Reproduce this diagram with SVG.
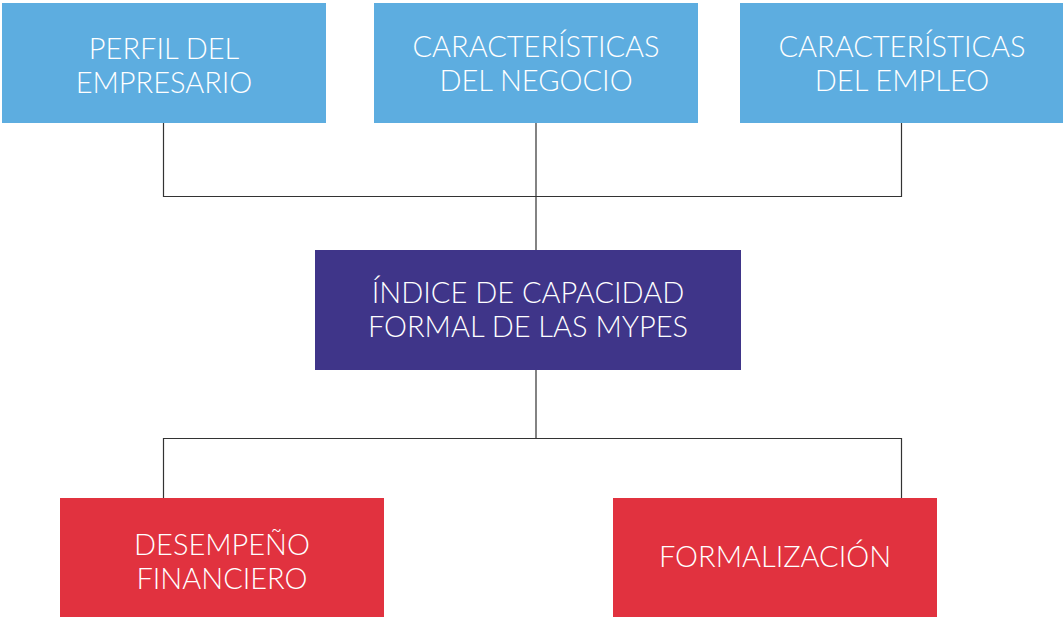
<svg xmlns="http://www.w3.org/2000/svg" width="1063" height="617" viewBox="0 0 1063 617">
<style>
.blue{fill:#5dade0}
.purple{fill:#3f3589}
.red{fill:#e1323f}
.t{fill:#ffffff;font-family:Lato,"Open Sans","Liberation Sans",sans-serif;font-weight:300;font-size:29px;text-anchor:middle}
.c{stroke:#333333;stroke-width:1.2;fill:none}
</style>
<rect width="1063" height="617" fill="#ffffff"/>
<g id="connectors">
<path class="c" d="M163.5 123V196.5H901.5V123M536 123V250"/>
<path class="c" d="M536 370V438.5M163.5 498V438.5H901.5V498"/>
</g>
<g id="perfil">
<rect class="blue" x="2" y="3" width="324" height="120"/>
<text class="t" x="164" y="59">PERFIL DEL</text>
<text class="t" x="164" y="93">EMPRESARIO</text>
</g>
<g id="negocio">
<rect class="blue" x="374" y="3" width="324" height="120"/>
<text class="t" x="536" y="57">CARACTERÍSTICAS</text>
<text class="t" x="536" y="91">DEL NEGOCIO</text>
</g>
<g id="empleo">
<rect class="blue" x="740" y="3" width="323" height="120"/>
<text class="t" x="902" y="57">CARACTERÍSTICAS</text>
<text class="t" x="902" y="91">DEL EMPLEO</text>
</g>
<g id="indice">
<rect class="purple" x="315" y="250" width="426" height="120"/>
<text class="t" x="528" y="303">ÍNDICE DE CAPACIDAD</text>
<text class="t" x="528" y="337">FORMAL DE LAS MYPES</text>
</g>
<g id="desempeno">
<rect class="red" x="60" y="498" width="324" height="119"/>
<text class="t" x="222" y="555">DESEMPEÑO</text>
<text class="t" x="222" y="589">FINANCIERO</text>
</g>
<g id="formalizacion">
<rect class="red" x="613" y="498" width="324" height="119"/>
<text class="t" x="775" y="567">FORMALIZACIÓN</text>
</g>
</svg>
